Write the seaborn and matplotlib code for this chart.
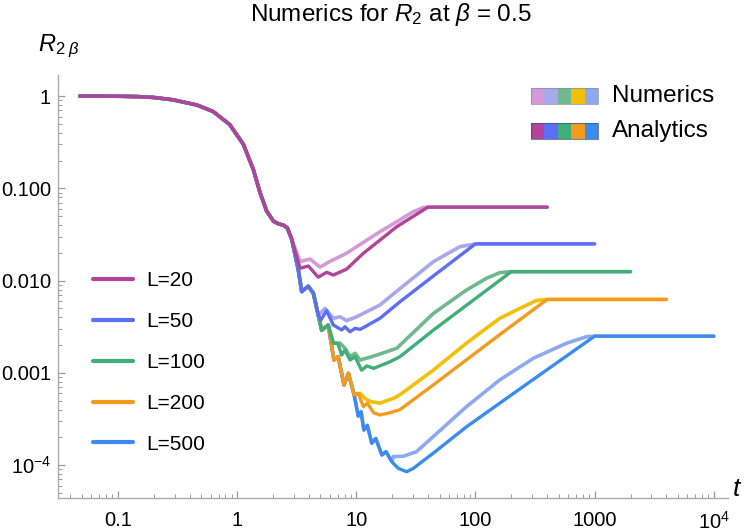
import numpy as np
import matplotlib
matplotlib.use("Agg")
import matplotlib.pyplot as plt
import seaborn as sns
from matplotlib.patches import Rectangle
from matplotlib.lines import Line2D
from matplotlib.ticker import LogLocator, NullFormatter

# ==============================
# Data
# ==============================
sizes = [20, 50, 100, 200, 500]
legend_labels = ["L=20", "L=50", "L=100", "L=200", "L=500"]

# part shared by every curve
t_common = [0.048, 0.10, 0.15, 0.20, 0.29, 0.46, 0.63, 0.87, 1.13, 1.37, 1.56, 1.77, 2.02, 2.25, 2.45, 2.65, 2.88]
r_common = [1.0, 0.995, 0.985, 0.965, 0.91, 0.80, 0.68, 0.49, 0.30, 0.16, 0.090, 0.057, 0.044, 0.041, 0.040, 0.037, 0.028]

# shared by L >= 50, L >= 100, L >= 200, L = 500
t_seg50 = [2.97, 3.27, 3.49, 3.96, 4.37, 4.81]
r_seg50 = [0.0233, 0.0130, 0.0076, 0.0087, 0.0073, 0.0042]
t_seg100 = [5.13, 5.83]
r_seg100 = [0.0029, 0.0033]
t_seg200 = [6.03, 6.5, 7.06, 7.9, 8.6, 9.6]
r_seg200 = [0.0025, 0.00138, 0.0015, 0.00074, 0.00099, 0.00058]
t_seg500 = [10.4, 10.98, 11.6, 12.4, 13.5, 14.6, 16.4, 17.8, 19.9]
r_seg500 = [0.00034, 0.00038, 0.00024, 0.00027, 0.000173, 0.000195, 0.000129, 0.00014, 0.000109]

# own tails, analytics
t_a20 = [3.38, 3.97, 4.8, 5.65, 6.43, 8.3, 11.5, 21.9, 40, 400]
r_a20 = [0.0136, 0.0144, 0.0109, 0.0123, 0.0115, 0.0133, 0.0198, 0.0384, 0.0625, 0.0625]
t_a50 = [5.04, 5.65, 6.43, 7.55, 8.05, 8.87, 9.77, 10.8, 15.8, 23.3, 44.3, 100, 1000]
r_a50 = [0.00374, 0.00472, 0.0033, 0.00292, 0.00316, 0.00279, 0.00304, 0.00296, 0.0039, 0.0059, 0.0112, 0.025, 0.025]
t_a100 = [6.43, 7.0, 7.55, 8.05, 8.87, 9.77, 11.1, 12.3, 14.0, 19.2, 23.3, 44.3, 200, 2000]
r_a100 = [0.00209, 0.0021, 0.00156, 0.00177, 0.00138, 0.0015, 0.00107, 0.00119, 0.00112, 0.00132, 0.0015, 0.0029, 0.0125, 0.0125]
t_a200 = [10.4, 11.5, 12.4, 14.0, 15.8, 19.2, 23.3, 44.3, 160, 400, 4000]
r_a200 = [0.00060, 0.00043, 0.00047, 0.00037, 0.00035, 0.00037, 0.00040, 0.00074, 0.0026, 0.00625, 0.00625]
t_a500 = [22.5, 26.5, 30, 44.3, 84, 160, 306, 1000, 10000]
r_a500 = [0.0000925, 0.000085, 0.000092, 0.000135, 0.00026, 0.00047, 0.00085, 0.0025, 0.0025]

# own tails, numerics
t_n20 = [3.38, 4.1, 4.97, 6.0, 8.3, 11.5, 15.8, 21.9, 30, 36.6, 40, 400]
r_n20 = [0.0161, 0.0171, 0.0140, 0.0161, 0.0198, 0.026, 0.0338, 0.0434, 0.0557, 0.062, 0.0625, 0.0625]
t_n50 = [5.47, 6.43, 7.31, 8.3, 10.1, 15.8, 23.3, 44.3, 74, 100, 1000]
r_n50 = [0.0050, 0.0039, 0.00406, 0.00368, 0.00406, 0.00544, 0.0082, 0.016, 0.0233, 0.025, 0.025]
t_n100 = [6.43, 7.31, 8.05, 8.87, 9.77, 10.8, 13.1, 15.8, 21.9, 44.3, 84, 124, 160, 200, 2000]
r_n100 = [0.00209, 0.0021, 0.00185, 0.0015, 0.00163, 0.00138, 0.00148, 0.0016, 0.00185, 0.0044, 0.0079, 0.0106, 0.0122, 0.0125, 0.0125]
t_n200 = [10.8, 11.8, 13.1, 15.8, 20.5, 23.3, 44.3, 84, 160, 236, 327, 400, 4000]
r_n200 = [0.00060, 0.00053, 0.00049, 0.00047, 0.00053, 0.00058, 0.00107, 0.0021, 0.0039, 0.0050, 0.0061, 0.00625, 0.00625]
t_n500 = [20.5, 24.9, 32, 44.3, 84, 160, 306, 583, 860, 1000, 10000]
r_n500 = [0.000124, 0.000125, 0.00014, 0.000204, 0.00043, 0.00084, 0.00144, 0.0021, 0.00247, 0.0025, 0.0025]

analytic_colors = ["#B0449A", "#5B6EF5", "#3FAE78", "#F49A1C", "#3A8CF0"]
numeric_colors = ["#D39AD6", "#A9A8EC", "#6FB98C", "#F2C00A", "#8DAAF0"]

# ==============================
# Assemble curves
# ==============================
shared_t = [t_seg50, t_seg100, t_seg200, t_seg500]
shared_r = [r_seg50, r_seg100, r_seg200, r_seg500]
ana_t = [t_a20, t_a50, t_a100, t_a200, t_a500]
ana_r = [r_a20, r_a50, r_a100, r_a200, r_a500]
num_t = [t_n20, t_n50, t_n100, t_n200, t_n500]
num_r = [r_n20, r_n50, r_n100, r_n200, r_n500]


def build(i, tails_t, tails_r):
    t = np.concatenate([t_common] + shared_t[:i] + [tails_t[i]])
    r = np.concatenate([r_common] + shared_r[:i] + [tails_r[i]])
    return t, r


# ==============================
# Plot
# ==============================
sns.set_style("ticks")
plt.rcParams["font.family"] = ["Liberation Sans", "DejaVu Sans"]
plt.rcParams["mathtext.fontset"] = "custom"
plt.rcParams["mathtext.rm"] = "Liberation Sans"
plt.rcParams["mathtext.it"] = "Liberation Sans:italic"
plt.rcParams["mathtext.bf"] = "Liberation Sans:bold"
plt.rcParams["text.color"] = "black"
plt.rcParams["xtick.labelcolor"] = "black"
plt.rcParams["ytick.labelcolor"] = "black"

fig = plt.figure(figsize=(7.5, 5.32), dpi=100)
W, H = 750, 532
ax = fig.add_axes([58 / W, 1 - 498 / H, 670 / W, 423 / H])
ax.set_xscale("log")
ax.set_yscale("log")

for i in range(len(sizes)):
    t, r = build(i, num_t, num_r)
    sns.lineplot(x=t, y=r, color=numeric_colors[i], lw=2.6, ax=ax,
                 estimator=None, sort=False, zorder=2)
for i in range(len(sizes)):
    t, r = build(i, ana_t, ana_r)
    sns.lineplot(x=t, y=r, color=analytic_colors[i], lw=2.4, ax=ax,
                 estimator=None, sort=False, zorder=10 - i)

ax.set_xlim(0.0315, 13150)
ax.set_ylim(4.41e-5, 1.69)

# axes styling
grey = "#aaaaaa"
sns.despine(ax=ax)
for s in ["left", "bottom"]:
    ax.spines[s].set_color(grey)
    ax.spines[s].set_linewidth(1.0)

ax.set_xticks([0.1, 1, 10, 100, 1000, 1e4])
ax.set_xticklabels(["0.1", "1", "10", "100", "1000", r"$10^4$"])
ax.set_yticks([1, 0.1, 0.01, 0.001, 1e-4])
ax.set_yticklabels(["1", "0.100", "0.010", "0.001", r"$10^{-4}$"])
ax.xaxis.set_minor_locator(LogLocator(base=10, subs=np.arange(2, 10)))
ax.yaxis.set_minor_locator(LogLocator(base=10, subs=np.arange(2, 10)))
ax.xaxis.set_minor_formatter(NullFormatter())
ax.yaxis.set_minor_formatter(NullFormatter())
ax.tick_params(which="both", direction="in", color="#999999", labelsize=14.5,
               labelcolor="black")
ax.tick_params(which="major", length=5, width=0.9)
ax.tick_params(which="minor", length=3, width=0.7)
ax.tick_params(axis="y", which="major", pad=5)
ax.tick_params(axis="x", which="major", pad=9)
ax.set_xlabel("")
ax.set_ylabel("")

# titles / axis labels
fig.text(391 / W, 1 - 15 / H, r"Numerics for $R_2$ at $\beta$ = 0.5",
         ha="center", va="center", fontsize=17.5)
fig.text(38 / W, 1 - 46 / H, r"$R_{2\ \beta}$", ha="left", va="center", fontsize=17)
fig.text(732 / W, 1 - 489 / H, r"$t$", ha="left", va="center", fontsize=19)

# left legend (L values)
handles = [Line2D([], [], color=c, lw=3) for c in analytic_colors]
ax.legend(handles, legend_labels, loc="center left",
          bbox_to_anchor=((93 - 58) / 670, (498 - 362.5) / 423),
          frameon=False, fontsize=15, handlelength=1.9, handletextpad=0.65,
          labelspacing=1.05, borderpad=0, borderaxespad=0)

# top-right legend (colour swatches)
sw_x0, sw_w = 531, 67
rows = [("Numerics", numeric_colors, 88, "#8a8aa8"),
        ("Analytics", analytic_colors, 123, "#34558a")]
for label, cols, top, edge in rows:
    seg = sw_w / len(cols)
    for k, c in enumerate(cols):
        fig.add_artist(Rectangle(((sw_x0 + k * seg) / W, 1 - (top + 16) / H),
                                 seg / W, 16 / H, transform=fig.transFigure,
                                 facecolor=c, edgecolor="none"))
    fig.add_artist(Rectangle((sw_x0 / W, 1 - (top + 16) / H), sw_w / W, 16 / H,
                             transform=fig.transFigure, facecolor="none",
                             edgecolor=edge, lw=0.8, alpha=0.7))
    fig.text(612 / W, 1 - (top + 8) / H, label, ha="left", va="center", fontsize=17.5)

fig.savefig("out.png", dpi=100)
